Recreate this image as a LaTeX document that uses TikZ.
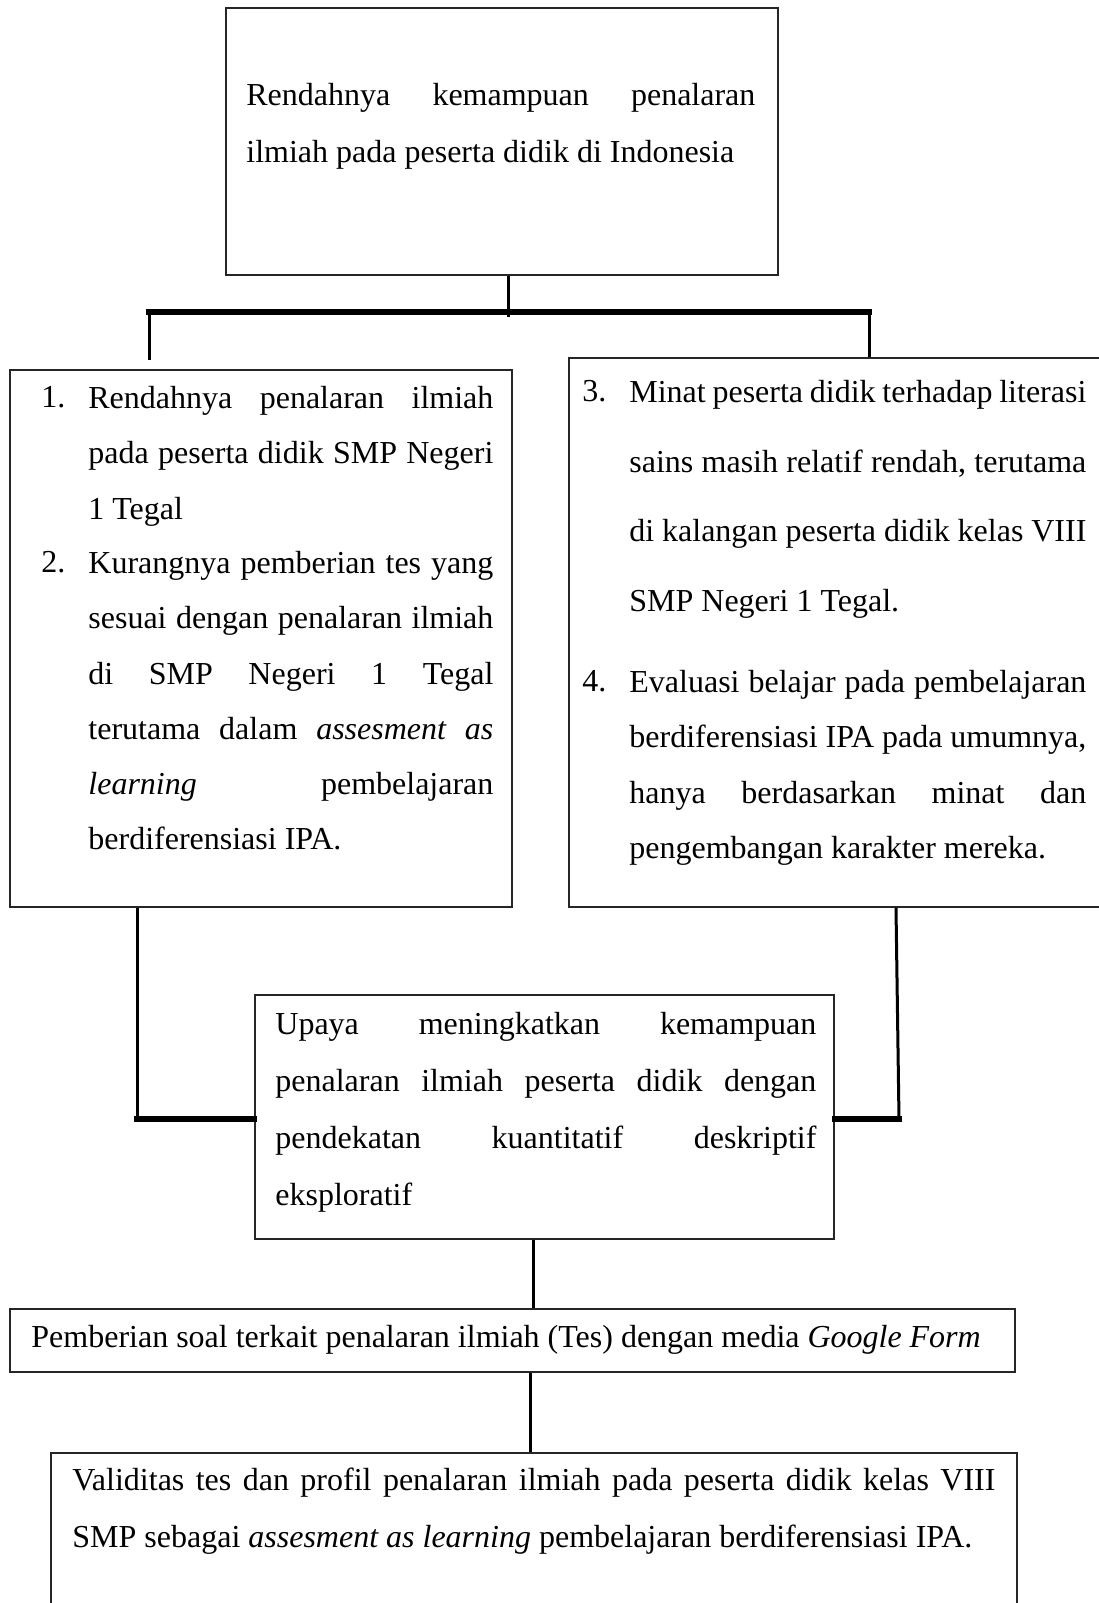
\documentclass[tikz,border=0pt]{standalone}
\usepackage{fontspec}
\setmainfont{Liberation Serif}
\usetikzlibrary{fit}
\tolerance=9999
\hyphenpenalty=10000

\begin{document}
\begin{tikzpicture}[
  x=0.5pt, y=-0.5pt,
  box/.style={draw=black!85, line width=0.7pt, inner sep=0pt},
  txt/.style={anchor=north west, inner sep=0pt, align=justify,
              font=\fontsize{16}{#1}\selectfont},
  txt/.default=27.6,
  plain/.style={anchor=north west, inner sep=0pt, font=\fontsize{16}{19}\selectfont},
  stem/.style={line width=1.5pt},
  bar/.style={line width=2.6pt, line cap=rect},
]

\path[use as bounding box, fill=white] (0,0) rectangle (1099,1603);

%% ===== BOXES =====

\node[box, fit={(226,8) (778,275)}] (topbox) {};
\node[box, fit={(10,370) (512,907)}] (leftbox) {};
\node[box, fit={(569,358) (1115,907)}] (rightbox) {};
\node[box, fit={(255,995) (834,1239)}] (midbox) {};
\node[box, fit={(10,1309) (1015,1372)}] (formbox) {};
\node[box, fit={(51,1453) (1017,1625)}] (validbox) {};

%% ===== TEXTS =====

\node[txt=28.5, text width=254.5pt] (toptext) at (246,83)
    {Rendahnya kemampuan penalaran\linebreak
     ilmiah pada peserta didik di Indonesia};

\node[plain] (n1) at (41,386) {1.};
\node[txt, text width=202.5pt] (item1) at (88,386)
    {Rendahnya penalaran ilmiah\linebreak
     pada peserta didik SMP Negeri\linebreak
     1 Tegal};

\node[plain] (n2) at (41,551) {2.};
\node[txt, text width=202.5pt] (item2) at (88,551)
    {Kurangnya pemberian tes yang\linebreak
     sesuai dengan penalaran ilmiah\linebreak
     di SMP Negeri 1 Tegal\linebreak
     terutama dalam \emph{assesment as}\linebreak
     \emph{learning} pembelajaran\linebreak
     berdiferensiasi IPA.};

\node[plain] (n3) at (582,380) {3.};
\node[txt=34.8, text width=228.5pt] (item3) at (629,380)
    {Minat peserta didik terhadap literasi\linebreak
     sains masih relatif rendah, terutama\linebreak
     di kalangan peserta didik kelas VIII\linebreak
     SMP Negeri 1 Tegal.};

\node[plain] (n4) at (582,670) {4.};
\node[txt, text width=228.5pt] (item4) at (629,670)
    {Evaluasi belajar pada pembelajaran\linebreak
     berdiferensiasi IPA pada umumnya,\linebreak
     hanya berdasarkan minat dan\linebreak
     pengembangan karakter mereka.};

\node[txt=28.4, text width=270.5pt] (midtext) at (275,1012)
    {Upaya meningkatkan kemampuan\linebreak
     penalaran ilmiah peserta didik dengan\linebreak
     pendekatan kuantitatif deskriptif\linebreak
     eksploratif};

\node[plain] (formtext) at (31,1325)
    {Pemberian soal terkait penalaran ilmiah (Tes) dengan media \emph{Google Form}};

\node[txt=28.2, text width=461.5pt] (validtext) at (72,1468)
    {Validitas tes dan profil penalaran ilmiah pada peserta didik kelas VIII\linebreak
     SMP sebagai \emph{assesment as learning} pembelajaran berdiferensiasi IPA.};

%% ===== CONNECTORS =====

\coordinate (tapTop) at (508,317);
\coordinate (hubL) at (149,312);
\coordinate (hubR) at (869,312);
\coordinate (dropL) at (149,360);
\draw[stem] (topbox.south -| tapTop) -- (tapTop);
\draw[bar] (hubL) -- (hubR);
\draw[stem] (hubL) -- (dropL);
\draw[stem] (hubR) -- (hubR |- rightbox.north);

\coordinate (joinL) at (137,1119);
\coordinate (joinR) at (899,1119);
\draw[stem] (leftbox.south -| joinL) -- (joinL);
\draw[bar] (joinL) -- (joinL -| midbox.west);
\draw[stem] ([xshift=-1.5pt]rightbox.south -| joinR) -- (joinR);
\draw[bar] (midbox.east |- joinR) -- (joinR);

\coordinate (tapForm) at (533,1270);
\coordinate (tapValid) at (530,1410);
\draw[stem] (midbox.south -| tapForm) -- (formbox.north -| tapForm);
\draw[stem] (formbox.south -| tapValid) -- (validbox.north -| tapValid);

\end{tikzpicture}
\end{document}
